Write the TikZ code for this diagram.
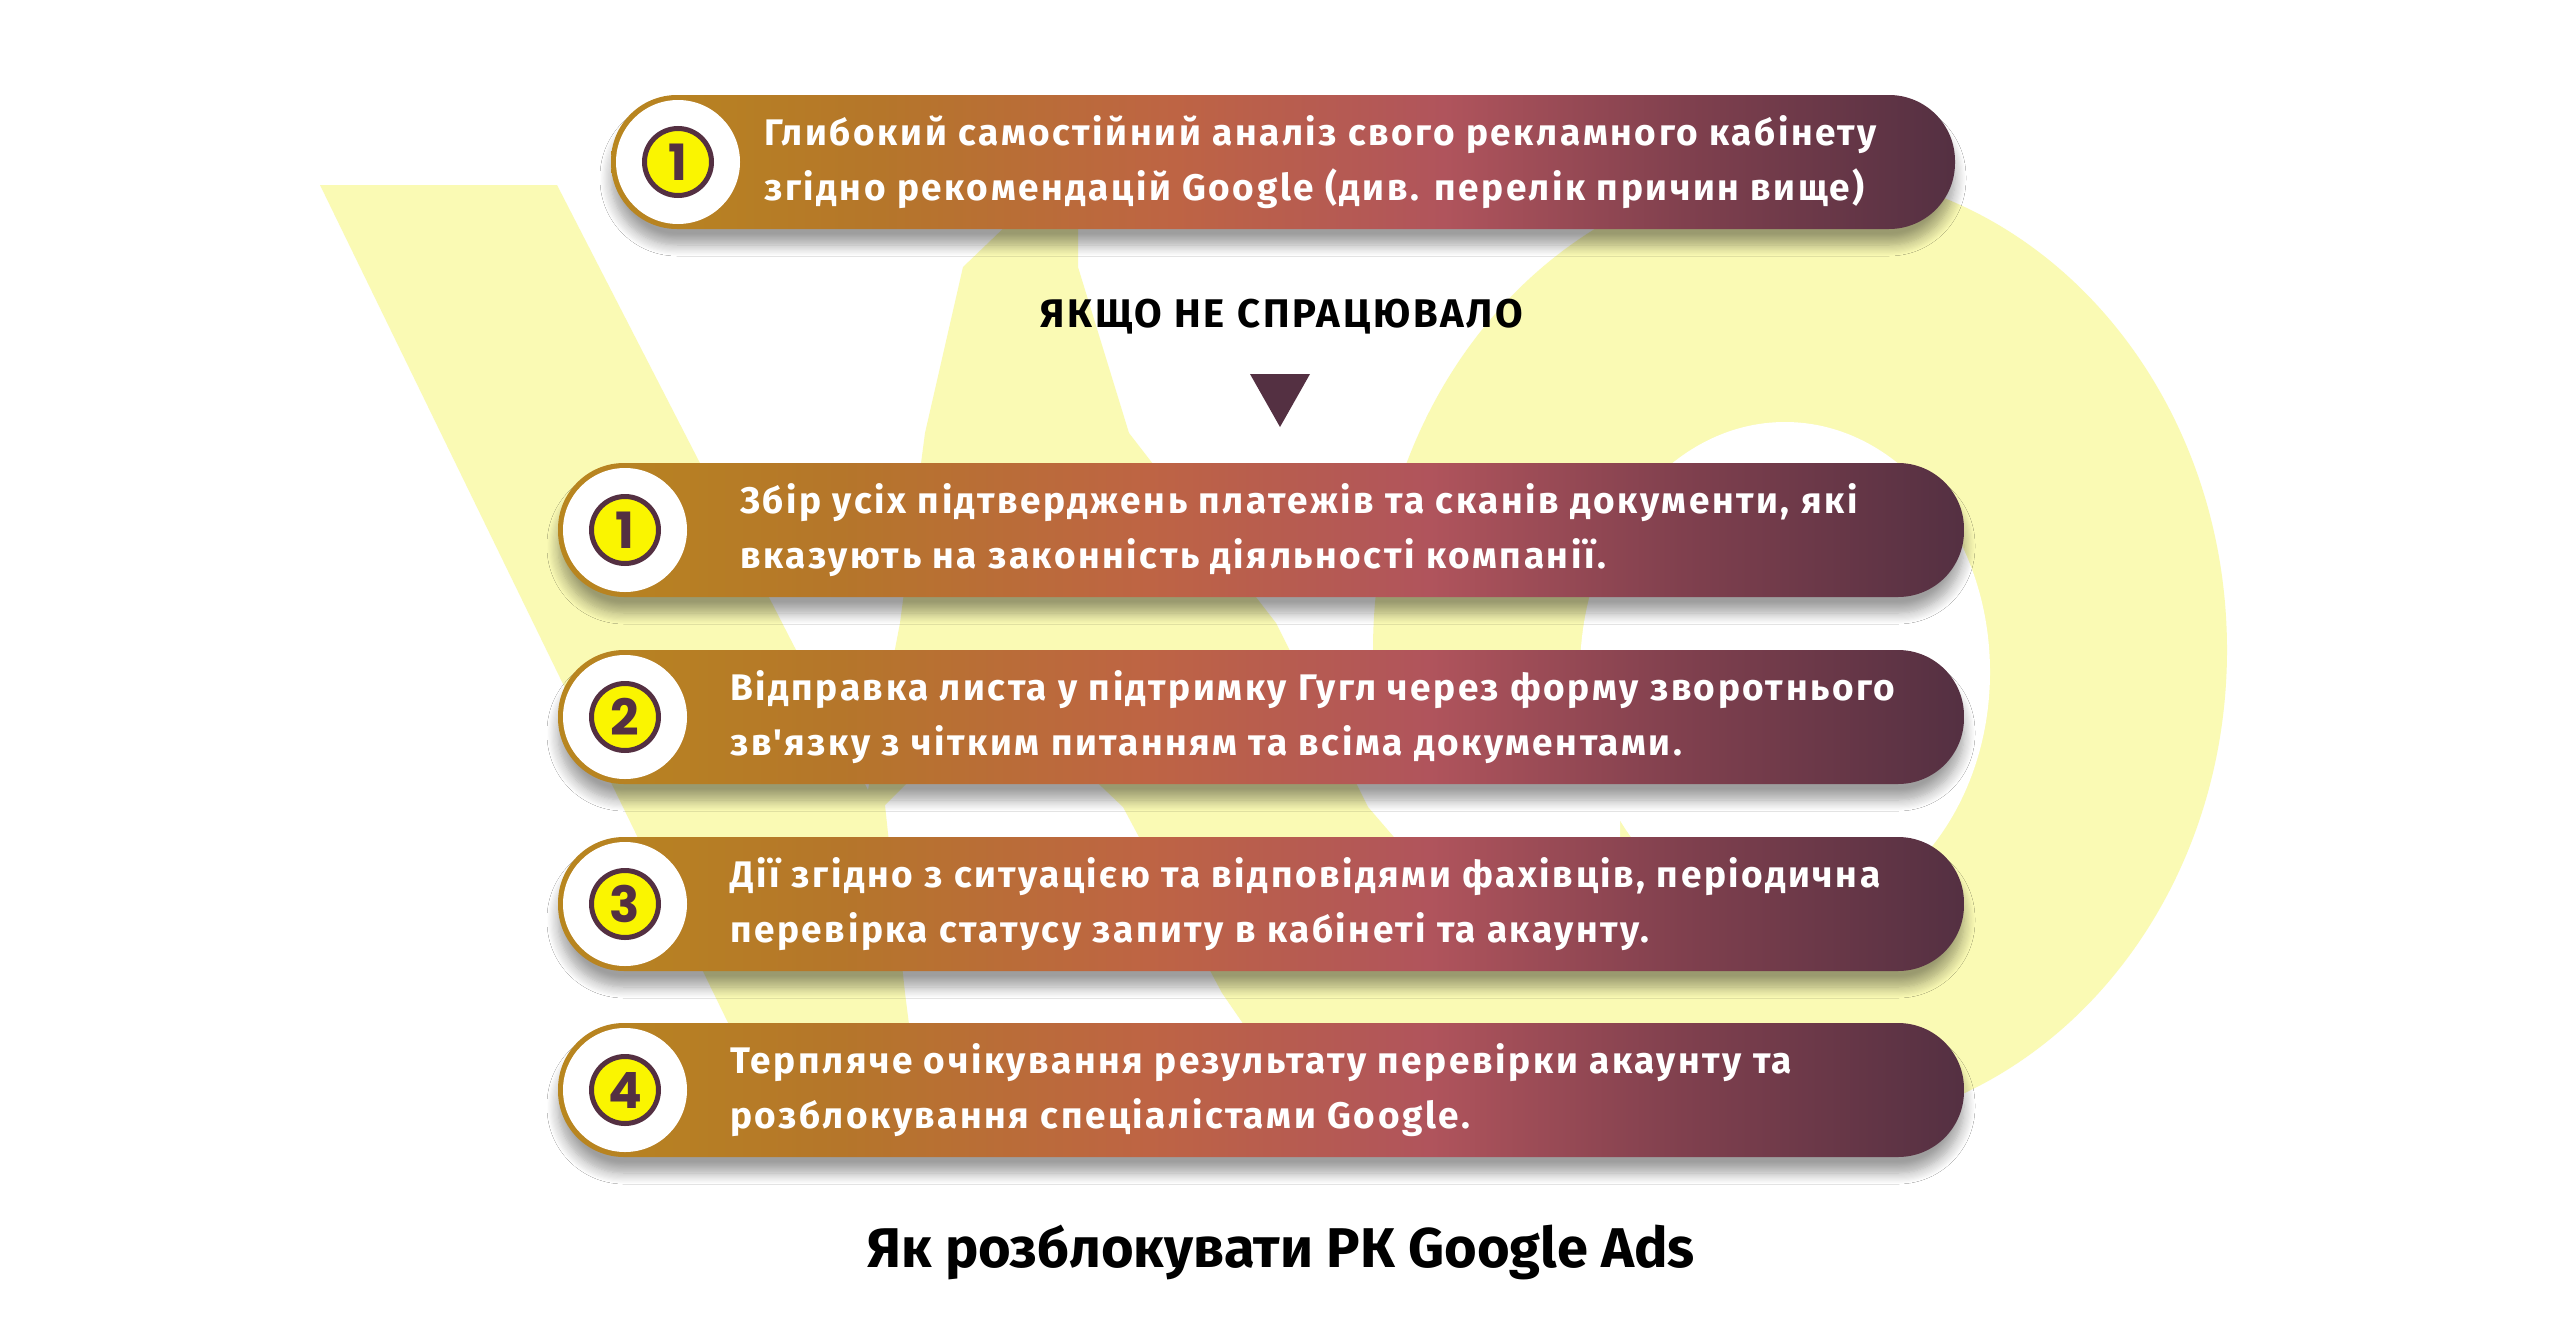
\documentclass[tikz,border=0pt]{standalone}
\usepackage{fontspec}
\setmainfont{Fira Sans}[Ligatures=TeXOff]
\newfontfamily\spacedfont{Fira Sans}[Ligatures=TeXOff, LetterSpace=6.9]
\newfontfamily\numfont{Poppins}
\usetikzlibrary{shadows.blur}
\definecolor{logoY}{RGB}{250,250,180}
\definecolor{plum}{RGB}{84,48,66}
\definecolor{numY}{RGB}{250,245,0}
\definecolor{gA}{RGB}{184,134,31}
\definecolor{gB}{RGB}{181,118,42}
\definecolor{gC}{RGB}{190,100,68}
\definecolor{gD}{RGB}{176,84,92}
\definecolor{gE}{RGB}{128,64,78}
\definecolor{gF}{RGB}{84,48,66}
\pgfdeclarehorizontalshading{pillgrad}{100bp}{color(0bp)=(gA); color(25bp)=(gA); color(35bp)=(gB); color(46bp)=(gC); color(56bp)=(gD); color(65bp)=(gE); color(75bp)=(gF); color(100bp)=(gF)}
\tikzset{
  pill/.style={rectangle, rounded corners=66pt, minimum height=134pt, inner sep=0pt,
    shading=pillgrad, blur shadow={shadow xshift=0pt, shadow yshift=-16pt, shadow blur radius=11pt, shadow opacity=38, shadow blur steps=10}},
  whitec/.style={circle, fill=white, minimum size=124pt, inner sep=0pt},
  numc/.style={circle, fill=numY, draw=plum, line width=5pt, minimum size=67pt, inner sep=0pt,
    text=plum, font=\numfont\bfseries\fontsize{50}{50}\selectfont},
  pilltext/.style={anchor=base west, inner sep=0pt, text=white, font=\spacedfont\bfseries\fontsize{37}{44}\selectfont},
  toptext/.style={anchor=base west, inner sep=0pt, text=white, font=\spacedfont\bfseries\fontsize{37}{44}\selectfont},
  heading/.style={anchor=base, inner sep=0pt, text=black, font=\spacedfont\bfseries\fontsize{40}{44}\selectfont},
  titletext/.style={anchor=base, inner sep=0pt, text=black, font=\bfseries\fontsize{56}{60}\selectfont},
  logo/.style={fill=logoY}
}
\begin{document}
\begin{tikzpicture}[x=1pt,y=-1pt]
\fill[white] (0,0) rectangle (2560,1333);
\useasboundingbox (0,0) rectangle (2560,1333);
% watermark logo
\fill[logo] (1800,650) ellipse [x radius=427, y radius=480];
\fill[white] (1785,672) ellipse [x radius=205, y radius=250];
\fill[white] (1300,700) -- (1620,700) -- (1620,890) -- (1430,900) -- cycle;
\fill[logo] (320,185) -- (557,185) -- (868,790) -- (900,623) -- (925,433) -- (963,267)
  -- (1010,222) -- (1078,222) -- (1078,267) -- (1129,433) -- (1276,623) -- (1368,807)
  -- (1500,960) -- (1540,1040) -- (1450,1130) -- (1330,1150) -- (1222,993) -- (1123,807)
  -- (1000,690) -- (885,805) -- (905,993) -- (925,1150) -- (790,1150) -- cycle;
% top pill
\node[pill, minimum width=1344pt] (p0) at (1283,162) {};
\node[whitec] (w0) at (678,162) {};
\node[numc] (n0) at (678,162) {1};
\node[toptext] (t0a) at (764,145) {Глибокий самостійний аналіз свого рекламного кабінету};
\node[toptext] (t0b) at (764,200) {згідно рекомендацій Google (див. перелік причин вище)};
% heading and arrow
\node[heading] (h) at (1282,327) {ЯКЩО НЕ СПРАЦЮВАЛО};
\coordinate (ta) at (1250,374);
\coordinate (tb) at (1310,374);
\coordinate (tc) at (1280,427);
\fill[plum] (ta) -- (tb) -- (tc) -- cycle;
% step pills
\node[pill, minimum width=1406pt] (p1) at (1261,530) {};
\node[whitec] (w1) at (625,530) {};
\node[numc] (n1) at (625,530) {1};
\node[pilltext] (t1a) at (740,513) {Збір усіх підтверджень платежів та сканів документи, які};
\node[pilltext] (t1b) at (740,568) {вказують на законність діяльності компанії.};
\node[pill, minimum width=1406pt] (p2) at (1261,717) {};
\node[whitec] (w2) at (625,717) {};
\node[numc] (n2) at (625,717) {2};
\node[pilltext] (t2a) at (730,700) {Відправка листа у підтримку Гугл через форму зворотнього};
\node[pilltext] (t2b) at (730,755) {зв'язку з чітким питанням та всіма документами.};
\node[pill, minimum width=1406pt] (p3) at (1261,904) {};
\node[whitec] (w3) at (625,904) {};
\node[numc] (n3) at (625,904) {3};
\node[pilltext] (t3a) at (730,887) {Дії згідно з ситуацією та відповідями фахівців, періодична};
\node[pilltext] (t3b) at (730,942) {перевірка статусу запиту в кабінеті та акаунту.};
\node[pill, minimum width=1406pt] (p4) at (1261,1090) {};
\node[whitec] (w4) at (625,1090) {};
\node[numc] (n4) at (625,1090) {4};
\node[pilltext] (t4a) at (730,1073) {Терпляче очікування результату перевірки акаунту та};
\node[pilltext] (t4b) at (730,1128) {розблокування спеціалістами Google.};
% title
\node[titletext] (title) at (1281,1267) {Як розблокувати РК Google Ads};
\end{tikzpicture}
\end{document}
